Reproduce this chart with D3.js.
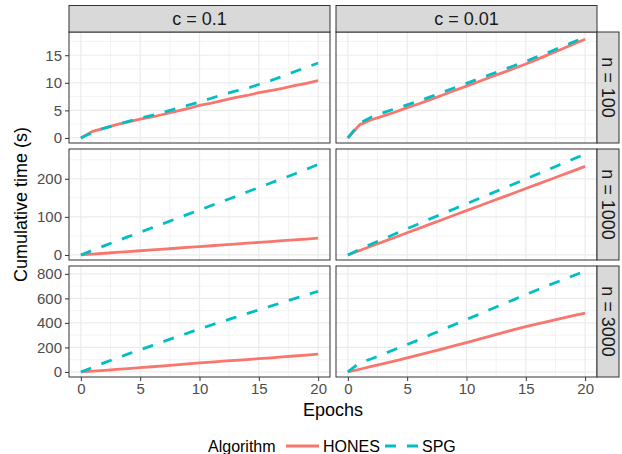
<!DOCTYPE html>
<html>
<head>
<meta charset="utf-8">
<script src="https://cdn.jsdelivr.net/npm/d3@7/dist/d3.min.js"></script>
<style>
  body { margin: 0; background: #fff; }
  text { font-family: "Liberation Sans", Arial, Helvetica, sans-serif; }
</style>
</head>
<body>
<div id="chart"></div>
<script>
// Facets and categories
var epochs = [0, 1, 2, 3, 4, 5, 6, 7, 8, 9, 10, 11, 12, 13, 14, 15, 16, 17, 18, 19, 20];
var facetCols = ['c = 0.1', 'c = 0.01'];
var facetRows = ['n = 100', 'n = 1000', 'n = 3000'];
var algorithms = ['HONES', 'SPG'];
var xTicks = [0, 5, 10, 15, 20];
var yTicksRow100 = [0, 5, 10, 15];
var yTicksRow1000 = [0, 100, 200];
var yTicksRow3000 = [0, 200, 400, 600, 800];

// Cumulative time (s), one value per epoch
var honesC1N100 = [0, 1.2, 1.8, 2.4, 2.9, 3.4, 3.8, 4.3, 4.8, 5.3, 5.9, 6.3, 6.8, 7.3, 7.7, 8.2, 8.6, 9.0, 9.5, 9.9, 10.4];
var spgC1N100 = [0, 1.0, 1.8, 2.4, 3.0, 3.6, 4.1, 4.7, 5.3, 5.9, 6.5, 7.2, 7.9, 8.5, 9.0, 9.7, 10.4, 11.2, 12.0, 12.8, 13.6];
var honesC01N100 = [0, 2.4, 3.3, 4.0, 4.7, 5.5, 6.2, 7.0, 7.8, 8.6, 9.4, 10.2, 11.0, 11.8, 12.6, 13.4, 14.3, 15.2, 16.1, 17.0, 17.9];
var spgC01N100 = [0, 2.7, 3.8, 4.6, 5.3, 6.0, 6.7, 7.5, 8.3, 9.1, 9.9, 10.7, 11.5, 12.3, 13.1, 13.9, 14.8, 15.6, 16.5, 17.4, 18.3];

var honesC1N1000 = [0, 2.3, 4.5, 6.7, 8.9, 11.0, 13.2, 15.4, 17.6, 19.8, 22.0, 24.2, 26.4, 28.6, 30.8, 33.0, 35.2, 37.4, 39.6, 41.8, 44.0];
var spgC1N1000 = [0, 12.5, 24.4, 36.2, 48.0, 59.5, 71.3, 83.0, 94.6, 106.5, 118.0, 129.8, 141.5, 153.0, 165.2, 177.0, 189.0, 200.6, 212.5, 225.0, 238.0];
var honesC01N1000 = [0, 11.8, 23.5, 35.0, 46.6, 58.3, 69.9, 81.5, 93.2, 104.8, 116.4, 128.0, 139.6, 151.2, 162.8, 174.5, 186.0, 197.6, 209.2, 220.9, 232.5];
var spgC01N1000 = [0, 15, 29, 42, 55.5, 69, 82, 95.5, 108.5, 121.5, 134.5, 147.5, 160.5, 173.5, 186.5, 199.5, 212.5, 225.5, 238.5, 252, 265];

var honesC1N3000 = [0, 6.5, 13.5, 20.5, 27.5, 35, 42.5, 50, 58, 66, 74, 81, 88, 94.5, 101, 108, 115.5, 123, 130, 137.5, 145];
var spgC1N3000 = [0, 38, 76, 112, 147, 181, 215, 249, 283, 317, 352, 383, 414, 445, 476, 506, 537, 567, 598, 628, 658];
var honesC01N3000 = [0, 22, 45, 68, 91, 114, 139, 164, 189, 214, 239, 266, 293, 319, 345, 370, 392, 414, 437, 459, 480];
var spgC01N3000 = [0, 75, 108, 146, 185, 224, 263, 305, 346, 387, 428, 468, 509, 550, 590, 631, 671, 710, 747, 785, 823];

// Color constants (ggplot2 theme_bw + default hue palette)
var COLORS = {
  HONES: '#F8766D',
  SPG: '#00BFC4',
  GRID: '#EBEBEB',
  BORDER: '#333333',
  STRIP: '#D9D9D9',
  STRIP_TEXT: '#1A1A1A',
  TICK_TEXT: '#4D4D4D'
};

// Size constants
var WIDTH = 622,
    HEIGHT = 454,
    PANEL_W = 261,
    PANEL_H = 111,
    PANEL_GAP = 6,
    PANEL_LEFT = 69,
    PANEL_TOP = 32,
    STRIP_H = 26.5,
    STRIP_W = 22,
    LINE_W = 2.8,
    DASH = '11,11';

// Build the panel table from the named arrays
var seriesTable = [
  [[honesC1N100, spgC1N100], [honesC01N100, spgC01N100]],
  [[honesC1N1000, spgC1N1000], [honesC01N1000, spgC01N1000]],
  [[honesC1N3000, spgC1N3000], [honesC01N3000, spgC01N3000]]
];
var yTicksByRow = [yTicksRow100, yTicksRow1000, yTicksRow3000];

function expand(lo, hi) {
  var pad = (hi - lo) * 0.05;
  return [lo - pad, hi + pad];
}

var svg = d3.select('#chart')
  .append('svg')
  .attr('width', WIDTH)
  .attr('height', HEIGHT);

var xExt = d3.extent(epochs);
var x = d3.scaleLinear()
  .domain(expand(xExt[0], xExt[1]))
  .range([0, PANEL_W]);

var line = d3.line()
  .x(function(d, i) { return x(epochs[i]); });

facetRows.forEach(function(rowLabel, r) {
  var top = PANEL_TOP + r * (PANEL_H + PANEL_GAP);
  var rowMax = d3.max(seriesTable[r], function(p) {
    return d3.max(p, function(s) { return d3.max(s); });
  });
  var y = d3.scaleLinear()
    .domain(expand(0, rowMax))
    .range([PANEL_H, 0]);
  var yTicks = yTicksByRow[r];
  var step = yTicks[1] - yTicks[0];
  var yMinor = yTicks.map(function(v) { return v + step / 2; })
    .filter(function(v) { return v < y.domain()[1]; });
  var xMinor = xTicks.slice(0, -1).map(function(v) { return v + 2.5; });

  facetCols.forEach(function(colLabel, c) {
    var left = PANEL_LEFT + c * (PANEL_W + PANEL_GAP);
    var g = svg.append('g')
      .attr('transform', 'translate(' + left + ',' + top + ')');

    g.append('rect')
      .attr('width', PANEL_W)
      .attr('height', PANEL_H)
      .attr('fill', '#fff');

    // Minor grid
    g.selectAll('.xminor').data(xMinor).enter().append('line')
      .attr('x1', function(d) { return x(d); })
      .attr('x2', function(d) { return x(d); })
      .attr('y1', 0).attr('y2', PANEL_H)
      .attr('stroke', COLORS.GRID).attr('stroke-width', 0.6);
    g.selectAll('.yminor').data(yMinor).enter().append('line')
      .attr('y1', function(d) { return y(d); })
      .attr('y2', function(d) { return y(d); })
      .attr('x1', 0).attr('x2', PANEL_W)
      .attr('stroke', COLORS.GRID).attr('stroke-width', 0.6);

    // Major grid
    g.selectAll('.xmajor').data(xTicks).enter().append('line')
      .attr('x1', function(d) { return x(d); })
      .attr('x2', function(d) { return x(d); })
      .attr('y1', 0).attr('y2', PANEL_H)
      .attr('stroke', COLORS.GRID).attr('stroke-width', 1.2);
    g.selectAll('.ymajor').data(yTicks).enter().append('line')
      .attr('y1', function(d) { return y(d); })
      .attr('y2', function(d) { return y(d); })
      .attr('x1', 0).attr('x2', PANEL_W)
      .attr('stroke', COLORS.GRID).attr('stroke-width', 1.2);

    // Series lines
    line.y(function(d) { return y(d); });
    algorithms.forEach(function(alg, a) {
      g.append('path')
        .datum(seriesTable[r][c][a])
        .attr('d', line)
        .attr('fill', 'none')
        .attr('stroke', COLORS[alg])
        .attr('stroke-width', LINE_W)
        .attr('stroke-dasharray', alg === 'SPG' ? DASH : null);
    });

    // Panel border
    g.append('rect')
      .attr('width', PANEL_W)
      .attr('height', PANEL_H)
      .attr('fill', 'none')
      .attr('stroke', COLORS.BORDER)
      .attr('stroke-width', 1);

    // Left axis on first column
    if (c === 0) {
      var yAxis = d3.axisLeft(y)
        .tickValues(yTicks)
        .tickSize(4)
        .tickPadding(3);
      var ya = g.append('g').call(yAxis);
      ya.select('.domain').remove();
      ya.selectAll('line').attr('stroke', COLORS.BORDER).attr('stroke-width', 1);
      ya.selectAll('text')
        .attr('fill', COLORS.TICK_TEXT)
        .style('font-size', '15px');
    }

    // Bottom axis on last row
    if (r === facetRows.length - 1) {
      var xAxis = d3.axisBottom(x)
        .tickValues(xTicks)
        .tickSize(4)
        .tickPadding(2);
      var xa = g.append('g')
        .attr('transform', 'translate(0,' + PANEL_H + ')')
        .call(xAxis);
      xa.select('.domain').remove();
      xa.selectAll('line').attr('stroke', COLORS.BORDER).attr('stroke-width', 1);
      xa.selectAll('text')
        .attr('fill', COLORS.TICK_TEXT)
        .style('font-size', '15px');
    }

    // Top strip
    if (r === 0) {
      g.append('rect')
        .attr('y', -STRIP_H)
        .attr('width', PANEL_W)
        .attr('height', STRIP_H)
        .attr('fill', COLORS.STRIP)
        .attr('stroke', COLORS.BORDER)
        .attr('stroke-width', 1);
      g.append('text')
        .text(colLabel)
        .attr('x', PANEL_W / 2)
        .attr('y', -STRIP_H / 2)
        .attr('dy', '0.36em')
        .attr('text-anchor', 'middle')
        .attr('fill', COLORS.STRIP_TEXT)
        .style('font-size', '18px');
    }

    // Right strip
    if (c === facetCols.length - 1) {
      g.append('rect')
        .attr('x', PANEL_W)
        .attr('width', STRIP_W)
        .attr('height', PANEL_H)
        .attr('fill', COLORS.STRIP)
        .attr('stroke', COLORS.BORDER)
        .attr('stroke-width', 1);
      g.append('text')
        .text(rowLabel)
        .attr('transform', 'translate(' + (PANEL_W + STRIP_W / 2) + ',' + (PANEL_H / 2) + ') rotate(90)')
        .attr('dy', '0.36em')
        .attr('text-anchor', 'middle')
        .attr('fill', COLORS.STRIP_TEXT)
        .style('font-size', '18px');
    }
  });
});

// Axis titles
var plotBottom = PANEL_TOP + 3 * PANEL_H + 2 * PANEL_GAP;
svg.append('text')
  .text('Epochs')
  .attr('x', PANEL_LEFT + PANEL_W + PANEL_GAP / 2)
  .attr('y', 416)
  .attr('text-anchor', 'middle')
  .attr('fill', '#000')
  .style('font-size', '18px');

svg.append('text')
  .text('Cumulative time (s)')
  .attr('transform', 'translate(27,' + ((PANEL_TOP + plotBottom) / 2) + ') rotate(-90)')
  .attr('text-anchor', 'middle')
  .attr('fill', '#000')
  .style('font-size', '18px');

// Legend
var LEGEND_Y = 446;
var legend = svg.append('g');
legend.append('text')
  .text('Algorithm')
  .attr('x', 208)
  .attr('y', LEGEND_Y)
  .attr('dy', '0.36em')
  .style('font-size', '16px');

var legendItems = [
  {alg: algorithms[0], x: 286},
  {alg: algorithms[1], x: 385}
];
legendItems.forEach(function(item) {
  legend.append('line')
    .attr('x1', item.x).attr('x2', item.x + 33)
    .attr('y1', LEGEND_Y).attr('y2', LEGEND_Y)
    .attr('stroke', COLORS[item.alg])
    .attr('stroke-width', LINE_W)
    .attr('stroke-dasharray', item.alg === 'SPG' ? DASH : null);
  legend.append('text')
    .text(item.alg)
    .attr('x', item.x + 37)
    .attr('y', LEGEND_Y)
    .attr('dy', '0.36em')
    .style('font-size', '16px');
});
</script>
</body>
</html>
